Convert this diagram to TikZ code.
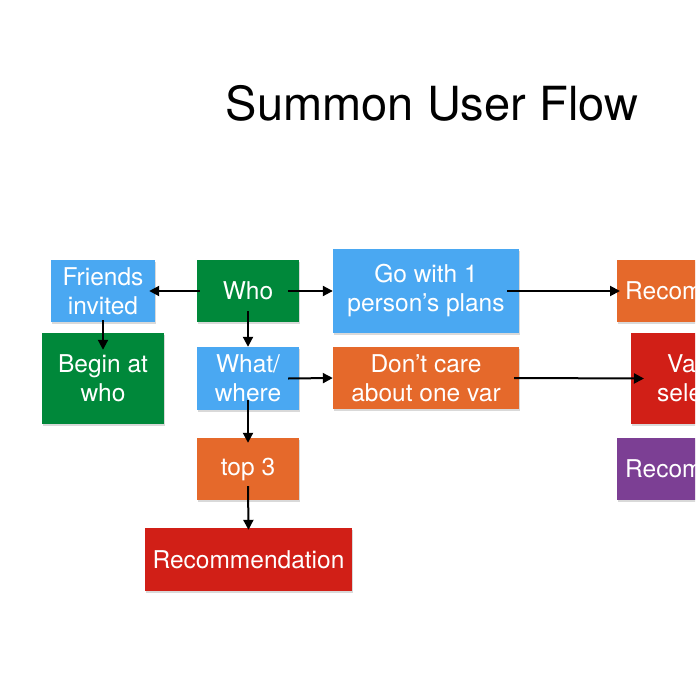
\documentclass[tikz,border=0pt]{standalone}
\usepackage{fontspec}
\setmainfont{TeX Gyre Heros}
\usepackage{tikz}
\usetikzlibrary{shadows, arrows, arrows.meta, positioning}
\usepackage{xcolor}
\definecolor{flowblue}{HTML}{4AA8F2}
\definecolor{flowgreen}{HTML}{00883A}
\definecolor{floworange}{HTML}{E5692B}
\definecolor{flowred}{HTML}{D11F17}
\definecolor{flowpurple}{HTML}{7C3F94}
\tikzstyle{arrow}     = [line width=2pt,->,>={Triangle[length=10pt,width=10pt]}]
\tikzstyle{card}      = [inner sep=0pt, text=white, align=center, font=\fontsize{24.5}{29}\selectfont, drop shadow={opacity=0.3, shadow xshift=1pt, shadow yshift=-2pt}]

\begin{document}
\begin{tikzpicture}[x=1pt,y=-1pt]
\useasboundingbox (0,0) rectangle (695,695);
\clip (0,0) rectangle (695,695);

\node[font=\fontsize{47}{54}\selectfont] (title) at (432,103) {Summon User Flow};

\node[card,fill=flowblue,minimum width=104pt,minimum height=62pt] (friends) at (103,291) {Friends\\invited};
\node[card,fill=flowgreen,minimum width=102pt,minimum height=62pt] (who) at (248,291) {Who};
\node[card,fill=flowgreen,minimum width=122pt,minimum height=91pt] (begin) at (103,378.5) {Begin at\\who};
\node[card,fill=flowblue,minimum width=102pt,minimum height=63pt] (what) at (248,378.5) {What/\\where};
\node[card,fill=flowblue,minimum width=186pt,minimum height=84pt] (go) at (426,291) {Go with 1\\person’s plans};
\node[card,fill=floworange,minimum width=186pt,minimum height=62pt] (dontcare) at (426,378) {Don’t care\\about one var};
\node[card,fill=floworange,minimum width=102pt,minimum height=62pt] (top3) at (248,469) {top 3};
\node[card,fill=flowred,minimum width=207pt,minimum height=63pt] (rec) at (248.5,559.5) {Recommendation};

% right column, cut by the page edge
\node[card,fill=floworange,anchor=west,minimum height=62pt,inner xsep=8pt,text width=190pt,align=left] (recA) at (617,291) {Recom};
\node[card,fill=flowred,anchor=west,minimum height=91pt,inner xsep=26pt,text width=120pt,align=left] (varsel) at (631,378.5) {\hspace{10pt}Va\\sele};
\node[card,fill=flowpurple,anchor=west,minimum height=62pt,inner xsep=8pt,text width=190pt,align=left] (recB) at (617,469) {Recom};

\draw[arrow] ([xshift=3pt]who.west) -- ([xshift=-6pt]friends.east);
\draw[arrow] ([xshift=-11pt]who.east) -- (go.west);
\draw[arrow] ([yshift=11pt]who.south) -- (what.north);
\draw[arrow] ([yshift=2pt]friends.south) -- ([yshift=-17pt]begin.north);
\draw[arrow] ([xshift=-11pt]what.east) -- (dontcare.west);
\draw[arrow] ([yshift=10pt]what.south) -- ([yshift=-5pt]top3.north);
\draw[arrow] ([yshift=14pt]top3.south) -- ([yshift=-2pt]rec.north);
\draw[arrow] ([xshift=-12pt]go.east) -- ([xshift=3pt]recA.west);
\draw[arrow] ([xshift=-5pt]dontcare.east) -- ([xshift=13pt]varsel.west);

\end{tikzpicture}
\end{document}
